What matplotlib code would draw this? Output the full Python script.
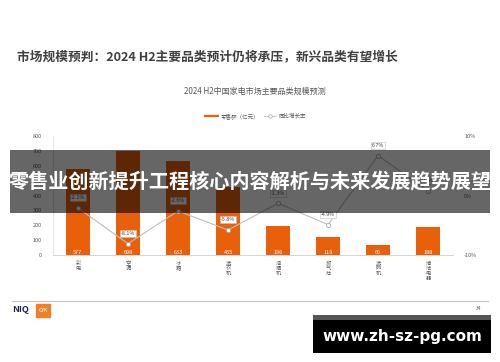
import matplotlib.pyplot as plt
import matplotlib.patches as patches
from matplotlib.lines import Line2D
import numpy as np

plt.rcParams['font.family'] = ['Noto Sans CJK SC', 'DejaVu Sans']

CATEGORIES = ['彩电', '空调', '冰箱', '洗衣机', '油烟机', '燃气灶', '洗碗机', '清洁电器']
SALES = [577, 698, 633, 455, 196, 119, 66, 188]          # 零售额（亿元）
GROWTH = [-2.1, -8.1, -2.6, -5.8, -1.3, -4.9, 6.7, 0.8]  # 同比增长率 %
GROWTH_LABELS = ['-2.1%', '-8.1%', '-2.6%', '-5.8%', '-1.3%', '-4.9%', '6.7%', '0.8%']

ORANGE = '#E8600A'
LINE_GRAY = '#BFBFBF'
TXT_GRAY = '#595959'

W, H = 500, 362
fig = plt.figure(figsize=(W / 100, H / 100), dpi=100)

def fx(px):
    return px / W

def fy(py):
    return 1 - py / H

# page title / chart title
fig.text(fx(17), fy(57), '市场规模预判：2024 H2主要品类预计仍将承压，新兴品类有望增长',
         fontsize=9.15, fontweight='bold', color='#404040', va='center', ha='left')
fig.text(fx(255), fy(91), '2024 H2中国家电市场主要品类规模预测',
         fontsize=5.8, color=TXT_GRAY, va='center', ha='center')

# main axes
ax = fig.add_axes([fx(53), fy(255), fx(400), (255 - 136) / H])
x = np.arange(len(CATEGORIES))
bars = ax.bar(x, SALES, width=0.48, color=ORANGE, zorder=2)
for xi, v in zip(x, SALES):
    ax.text(xi, 18, f'{v}', ha='center', va='center', fontsize=4, color='white', zorder=3)

ax.set_xlim(-0.5, len(CATEGORIES) - 0.5)
ax.set_ylim(0, 800)
ax.set_yticks(range(0, 801, 100))
ax.tick_params(axis='y', length=0, labelsize=4, labelcolor=TXT_GRAY, pad=8)
ax.set_xticks(x)
ax.set_xticklabels(['\n'.join(c) for c in CATEGORIES], fontsize=3.8,
                   color=TXT_GRAY, linespacing=1.0, va='top')
ax.tick_params(axis='x', length=0, pad=4)
for s in ['top', 'right']:
    ax.spines[s].set_visible(False)
ax.spines['left'].set_color('#E0E0E0')
ax.spines['left'].set_linewidth(0.6)
ax.spines['bottom'].set_color('#D0D0D0')
ax.spines['bottom'].set_linewidth(0.6)

# growth line on right axis
ax2 = ax.twinx()
ax2.set_ylim(-10, 10)
ax2.set_yticks([-10, 0, 10])
ax2.set_yticklabels(['-10%', '0%', '10%'])
ax2.tick_params(axis='y', length=0, labelsize=4, labelcolor=TXT_GRAY, pad=8)
for s in ['top', 'right', 'left', 'bottom']:
    ax2.spines[s].set_visible(False)
ax2.plot(x, GROWTH, color=LINE_GRAY, lw=0.8, marker='o', markersize=3,
         markerfacecolor='white', markeredgecolor='#A6A6A6', markeredgewidth=0.6, zorder=4)
for xi, g, lab in zip(x, GROWTH, GROWTH_LABELS):
    ax2.annotate(lab, (xi, g), xytext=(0, 5.5), textcoords='offset points',
                 ha='center', va='bottom', fontsize=3.8, color='#404040',
                 bbox=dict(boxstyle='square,pad=0.2', fc='white', ec='#BFBFBF', lw=0.4),
                 zorder=5)

# legend
fig.add_artist(Line2D([fx(205), fx(218)], [fy(116), fy(116)], color=ORANGE, lw=1.6))
fig.text(fx(221), fy(116), '零售额（亿元）', fontsize=4, color=TXT_GRAY, va='center')
fig.add_artist(Line2D([fx(264), fx(276)], [fy(116), fy(116)], color=LINE_GRAY, lw=0.6))
fig.add_artist(Line2D([fx(270)], [fy(116)], color=LINE_GRAY, marker='o', markersize=2.5,
                      markerfacecolor='white', markeredgecolor='#A6A6A6', markeredgewidth=0.5))
fig.text(fx(279), fy(116), '同比增长率', fontsize=4, color=TXT_GRAY, va='center')

# footer
fig.add_artist(Line2D([fx(12), fx(488)], [fy(301), fy(301)], color='#C8C8C8', lw=0.9))
fig.text(fx(12), fy(310), 'NIQ', fontsize=6.5, fontweight='bold', color='#1B2150', va='center')
fig.add_artist(patches.Rectangle((fx(36), fy(317)), fx(14), 13 / H, transform=fig.transFigure,
                                 color='#F07F2A'))
fig.text(fx(43), fy(310.5), 'GfK', fontsize=4, color='white', va='center', ha='center',
         style='italic')
fig.text(fx(479), fy(308), '34', fontsize=3.5, color=TXT_GRAY, va='center', ha='center')

# watermark banner
fig.add_artist(patches.Rectangle((fx(10), fy(213)), fx(480), 63 / H, transform=fig.transFigure,
                                 facecolor='black', alpha=0.6, zorder=10))
fig.text(fx(250), fy(182), '零售业创新提升工程核心内容解析与未来发展趋势展望',
         fontsize=14.5, fontweight='bold', color='white', ha='center', va='center', zorder=11)

# site box
fig.add_artist(patches.Rectangle((fx(313), fy(353)), fx(178), 38 / H, transform=fig.transFigure,
                                 facecolor='black', zorder=10))
fig.add_artist(patches.Rectangle((fx(313), fy(320)), fx(178), 5 / H, transform=fig.transFigure,
                                 facecolor='#555555', zorder=11))
fig.text(fx(402), fy(337), 'www.zh-sz-pg.com', fontsize=11, fontweight='bold', color='white',
         ha='center', va='center', family=['DejaVu Sans'], zorder=12)

fig.savefig('out.png', dpi=100)
